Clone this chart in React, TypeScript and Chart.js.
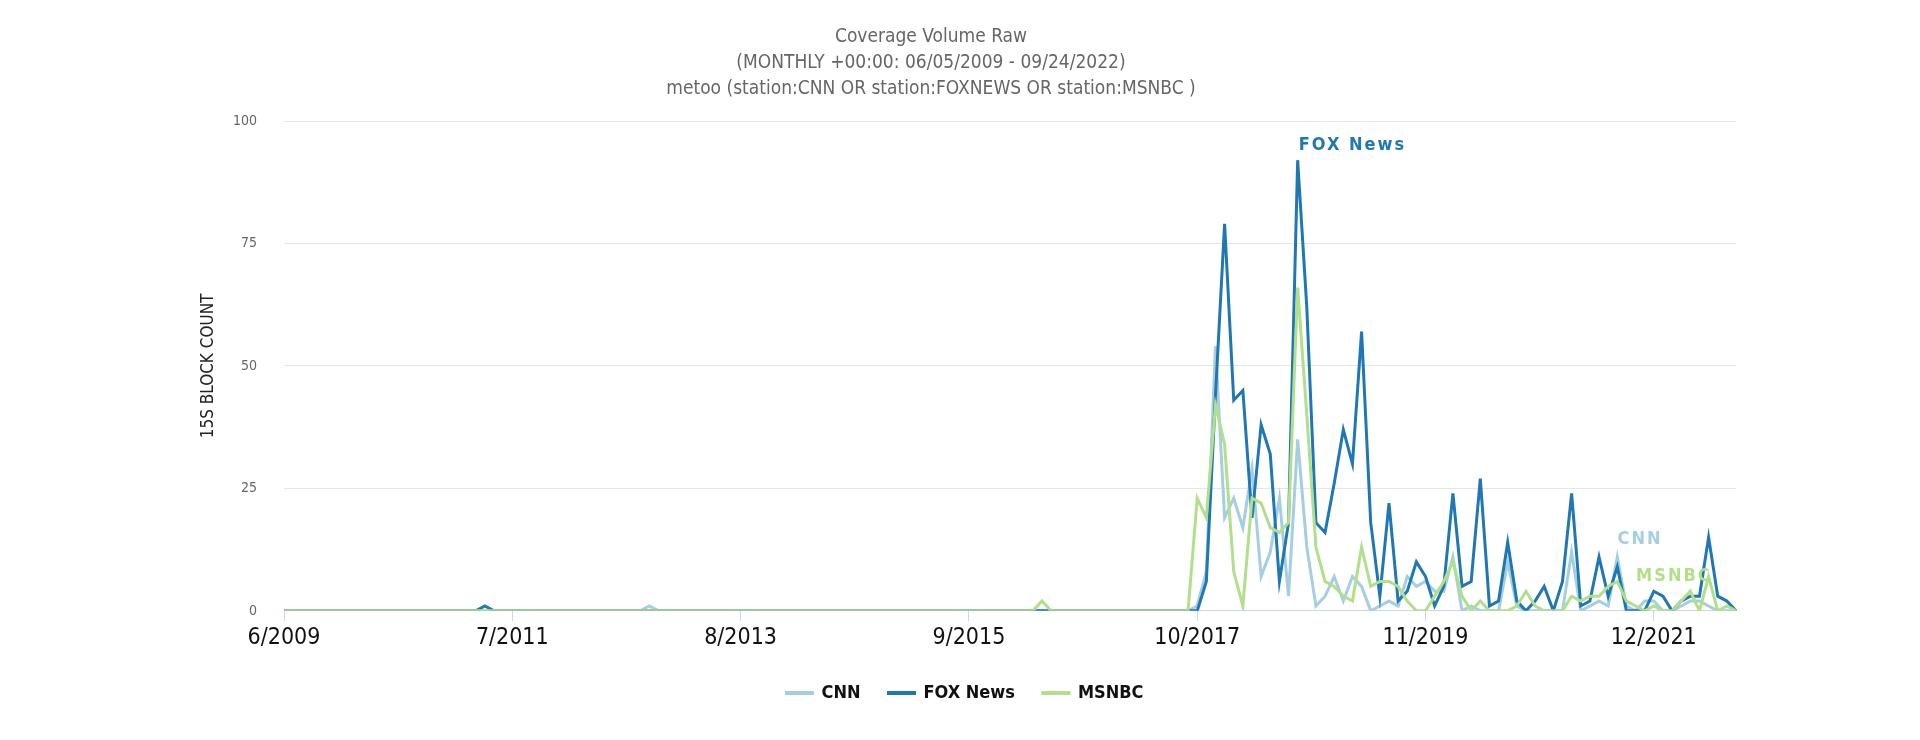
import React, { useEffect, useRef } from 'react';
import { Chart, registerables } from 'chart.js';

Chart.register(...registerables);

const FONT = "'Liberation Sans Narrow', 'DejaVu Sans Condensed', 'Roboto Condensed', Roboto, sans-serif";

// monthly buckets, 6/2009 .. 9/2022
const monthLabels: string[] = [];
for (let i = 0; i < 160; i++) {
  const m = ((5 + i) % 12) + 1;
  const y = 2009 + Math.floor((5 + i) / 12);
  monthLabels.push(`${m}/${y}`);
}

const titleLines = [
  'Coverage Volume Raw',
  '(MONTHLY +00:00: 06/05/2009 - 09/24/2022)',
  'metoo (station:CNN OR station:FOXNEWS OR station:MSNBC )',
];

const cnnValues = [
  0, 0, 0, 0, 0, 0, 0, 0, 0, 0, 0, 0, 0, 0, 0, 0, 0, 0, 0, 0,
  0, 0, 0, 0, 0, 0, 0, 0, 0, 0, 0, 0, 0, 0, 0, 0, 0, 0, 0, 0,
  1, 0, 0, 0, 0, 0, 0, 0, 0, 0, 0, 0, 0, 0, 0, 0, 0, 0, 0, 0,
  0, 0, 0, 0, 0, 0, 0, 0, 0, 0, 0, 0, 0, 0, 0, 0, 0, 0, 0, 0,
  0, 0, 0, 0, 0, 0, 0, 0, 0, 0, 0, 0, 0, 0, 0, 0, 0, 0, 0, 0,
  1, 8, 54, 19, 23, 17, 29, 7, 12, 23, 3, 35, 13, 1, 3, 7, 2, 7, 5, 0,
  1, 2, 1, 7, 5, 6, 4, 4, 11, 0, 1, 0, 0, 0, 10, 1, 0, 0, 0, 0,
  0, 12, 0, 1, 2, 1, 11, 1, 0, 2, 2, 0, 0, 1, 2, 2, 1, 0, 0, 0,
];

const foxValues = [
  0, 0, 0, 0, 0, 0, 0, 0, 0, 0, 0, 0, 0, 0, 0, 0, 0, 0, 0, 0,
  0, 0, 1, 0, 0, 0, 0, 0, 0, 0, 0, 0, 0, 0, 0, 0, 0, 0, 0, 0,
  0, 0, 0, 0, 0, 0, 0, 0, 0, 0, 0, 0, 0, 0, 0, 0, 0, 0, 0, 0,
  0, 0, 0, 0, 0, 0, 0, 0, 0, 0, 0, 0, 0, 0, 0, 0, 0, 0, 0, 0,
  0, 0, 0, 0, 0, 0, 0, 0, 0, 0, 0, 0, 0, 0, 0, 0, 0, 0, 0, 0,
  0, 6, 44, 79, 43, 45, 19, 38, 32, 6, 18, 92, 62, 18, 16, 26, 37, 30, 57, 18,
  3, 22, 2, 4, 10, 7, 1, 5, 24, 5, 6, 27, 1, 2, 14, 2, 0, 2, 5, 0,
  6, 24, 1, 2, 11, 3, 9, 0, 0, 0, 4, 3, 0, 2, 3, 3, 15, 3, 2, 0,
];

const msnbcValues = [
  0, 0, 0, 0, 0, 0, 0, 0, 0, 0, 0, 0, 0, 0, 0, 0, 0, 0, 0, 0,
  0, 0, 0, 0, 0, 0, 0, 0, 0, 0, 0, 0, 0, 0, 0, 0, 0, 0, 0, 0,
  0, 0, 0, 0, 0, 0, 0, 0, 0, 0, 0, 0, 0, 0, 0, 0, 0, 0, 0, 0,
  0, 0, 0, 0, 0, 0, 0, 0, 0, 0, 0, 0, 0, 0, 0, 0, 0, 0, 0, 0,
  0, 0, 0, 2, 0, 0, 0, 0, 0, 0, 0, 0, 0, 0, 0, 0, 0, 0, 0, 0,
  23, 19, 42, 34, 8, 1, 23, 22, 17, 16, 18, 66, 40, 13, 6, 5, 3, 2, 13, 5,
  6, 6, 5, 2, 0, 0, 3, 6, 10, 3, 0, 2, 0, 0, 0, 1, 4, 1, 0, 0,
  0, 3, 2, 3, 3, 5, 6, 2, 1, 0, 1, 0, 0, 2, 4, 0, 7, 0, 1, 0,
];

const CNN_COLOR = '#a6cee3';
const FOX_COLOR = '#1f78b4';
const MSNBC_COLOR = '#b2df8a';

// title block + inline series labels (anchored on the scales)
const textPlugin = {
  id: 'textPlugin',
  afterDatasetsDraw(chart: any) {
    const { ctx, scales } = chart;
    const x = scales.x;
    const y = scales.y;
    ctx.save();
    ctx.textAlign = 'center';
    ctx.textBaseline = 'middle';
    ctx.fillStyle = '#666';
    ctx.font = `19px ${FONT}`;
    titleLines.forEach((line, k) => {
      ctx.fillText(line, 931, 37 + k * 26.2);
    });

    const labels = [
      { text: 'FOX News', idx: 117, val: 95, color: FOX_COLOR },
      { text: 'CNN', idx: 148.5, val: 14.6, color: CNN_COLOR },
      { text: 'MSNBC', idx: 152.2, val: 7.1, color: MSNBC_COLOR },
    ];
    ctx.font = `bold 18px ${FONT}`;
    (ctx as any).letterSpacing = '2px';
    labels.forEach((l) => {
      ctx.fillStyle = l.color;
      ctx.fillText(l.text, x.getPixelForValue(l.idx), y.getPixelForValue(l.val));
    });
    ctx.restore();
  },
};

function CoverageChart() {
  const canvasRef = useRef<HTMLCanvasElement>(null);
  const chartRef = useRef<Chart | null>(null);

  useEffect(() => {
    document.body.style.margin = '0';
    if (!canvasRef.current) return;
    if (chartRef.current) chartRef.current.destroy();

    chartRef.current = new Chart(canvasRef.current, {
      type: 'line',
      data: {
        labels: monthLabels,
        datasets: [
          {
            label: 'CNN',
            data: cnnValues,
            borderColor: CNN_COLOR,
            backgroundColor: CNN_COLOR,
            borderWidth: 3,
            pointRadius: 0,
            tension: 0,
            order: 3,
          },
          {
            label: 'FOX News',
            data: foxValues,
            borderColor: FOX_COLOR,
            backgroundColor: FOX_COLOR,
            borderWidth: 3,
            pointRadius: 0,
            tension: 0,
            order: 2,
          },
          {
            label: 'MSNBC',
            data: msnbcValues,
            borderColor: MSNBC_COLOR,
            backgroundColor: MSNBC_COLOR,
            borderWidth: 3,
            pointRadius: 0,
            tension: 0,
            order: 1,
          },
        ],
      },
      options: {
        responsive: true,
        maintainAspectRatio: false,
        animation: false,
        layout: {
          padding: { left: 194, right: 184, top: 121, bottom: 28 },
        },
        plugins: {
          title: { display: false },
          tooltip: { enabled: false },
          legend: {
            position: 'bottom',
            labels: {
              boxWidth: 26,
              boxHeight: 1,
              padding: 28,
              color: '#111',
              font: { family: FONT, size: 18, weight: 'bold' },
              sort: (a: any, b: any) => a.datasetIndex - b.datasetIndex,
            },
          },
        },
        scales: {
          x: {
            offset: false,
            afterBuildTicks: (axis: any) => {
              axis.ticks = axis.ticks.filter((t: any) => t.value % 25 === 0);
            },
            grid: {
              drawOnChartArea: false,
              drawTicks: true,
              tickLength: 10,
              color: '#ccd6eb',
            },
            border: { display: true, color: '#ccd6eb' },
            ticks: {
              autoSkip: false,
              maxRotation: 0,
              padding: 4,
              color: '#111',
              font: { family: FONT, size: 23, lineHeight: 1.18 },
            },
          },
          y: {
            min: 0,
            max: 100,
            afterFit: (axis: any) => {
              axis.width = 90;
            },
            ticks: {
              stepSize: 25,
              padding: 27,
              color: '#666',
              font: { family: FONT, size: 14 },
            },
            grid: { color: '#e6e6e6', drawTicks: false },
            border: { display: false },
            title: {
              display: true,
              text: '15S BLOCK COUNT',
              color: '#222',
              padding: { top: 4, bottom: 4 },
              font: { family: FONT, size: 17 },
            },
          },
        },
      },
      plugins: [textPlugin],
    });

    return () => {
      if (chartRef.current) {
        chartRef.current.destroy();
        chartRef.current = null;
      }
    };
  }, []);

  return (
    <div style={{ width: '1920px', height: '740px', position: 'relative' }}>
      <canvas ref={canvasRef} />
    </div>
  );
}

export default function App() {
  return <CoverageChart />;
}
